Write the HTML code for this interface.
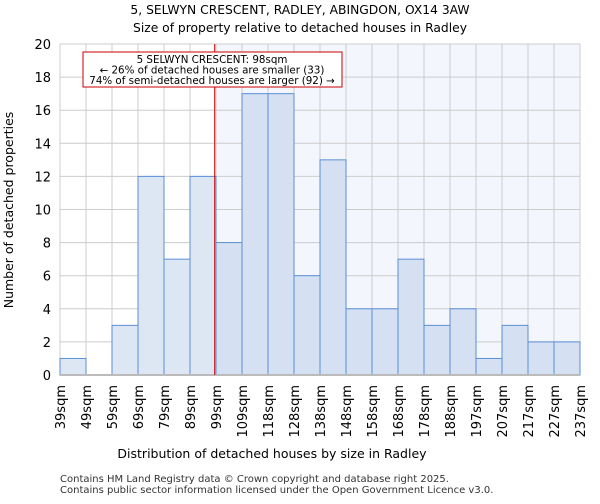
<!DOCTYPE html>
<html><head><meta charset="utf-8"><style>
body{margin:0;background:#fff;font-family:"DejaVu Sans","Liberation Sans",sans-serif;}
</style></head><body>
<svg id="c" width="600" height="500" xmlns="http://www.w3.org/2000/svg" font-family="DejaVu Sans, Liberation Sans, sans-serif">
<text x="300" y="14" text-anchor="middle" font-size="12.3">5, SELWYN CRESCENT, RADLEY, ABINGDON, OX14 3AW</text>
<text x="300" y="32" text-anchor="middle" font-size="12.3">Size of property relative to detached houses in Radley</text>
<g id="plot"></g>
<text x="272" y="458" text-anchor="middle" font-size="12.5">Distribution of detached houses by size in Radley</text>
<text transform="translate(13,210) rotate(-90)" text-anchor="middle" font-size="12.5">Number of detached properties</text>
<text x="60" y="482" font-size="10" fill="#333">Contains HM Land Registry data © Crown copyright and database right 2025.</text>
<text x="60" y="493" font-size="10" fill="#333">Contains public sector information licensed under the Open Government Licence v3.0.</text>
</svg>
<script>
const categories=["39sqm","49sqm","59sqm","69sqm","79sqm","89sqm","99sqm","109sqm","118sqm","128sqm","138sqm","148sqm","158sqm","168sqm","178sqm","188sqm","197sqm","207sqm","217sqm","227sqm","237sqm"];
const counts=[1,0,3,12,7,12,8,17,17,6,13,4,4,7,3,4,1,3,2,2];
const yTicks=[0,2,4,6,8,10,12,14,16,18,20];
const markerPos=5.95;
const NS="http://www.w3.org/2000/svg";
const L=60,R=580,T=44,B=375,yMax=20;
const bw=(R-L)/counts.length;
const x=i=>L+i*bw, y=v=>B-(v/yMax)*(B-T);
const g=document.getElementById('plot');
function el(t,a){const e=document.createElementNS(NS,t);for(const k in a)e.setAttribute(k,a[k]);g.appendChild(e);return e;}
const mx=x(markerPos);
let bg=el('rect',{x:mx,y:T,width:R-mx,height:B-T,fill:'#f4f6fd'});


for(const t of yTicks){
 const ln=el('line',{x1:L,x2:R,y1:y(t),y2:y(t),stroke:'#cccccc'});
 
 
 const tx=el('text',{x:L-9,y:y(t)+5,'text-anchor':'end','font-size':'13'});tx.textContent=t;
 
 
}
for(let i=0;i<categories.length;i++){
 const ln=el('line',{x1:x(i),x2:x(i),y1:T,y2:B,stroke:'#cccccc'});
 
 
 const tx=el('text',{transform:`translate(${x(i)+5},${B+10}) rotate(-90)`,'text-anchor':'end','font-size':'13'});tx.textContent=categories[i];
 
 
}
counts.forEach((v,i)=>{
 if(v<=0)return;
 const r=el('rect',{x:x(i),y:y(v),width:bw,height:B-y(v),fill:i<markerPos?'#dde6f3':'#d5e1f3',stroke:'#5b8fd6','stroke-width':1});
 
 
});
const ax=el('line',{x1:L,x2:R,y1:B,y2:B,stroke:'#bbbbbb','stroke-width':2});


const ml=el('line',{x1:mx,x2:mx,y1:T,y2:B,stroke:'#cc0000','stroke-width':1});


const box=el('rect',{x:83,y:52,width:259,height:35,fill:'#fff',stroke:'#cc0000'});


["5 SELWYN CRESCENT: 98sqm","← 26% of detached houses are smaller (33)","74% of semi-detached houses are larger (92) →"].forEach((s,k)=>{
 const t=el('text',{x:212,y:63+k*10.5,'text-anchor':'middle','font-size':'10.3'});t.textContent=s;
 
 
});
</script>
</body></html>
